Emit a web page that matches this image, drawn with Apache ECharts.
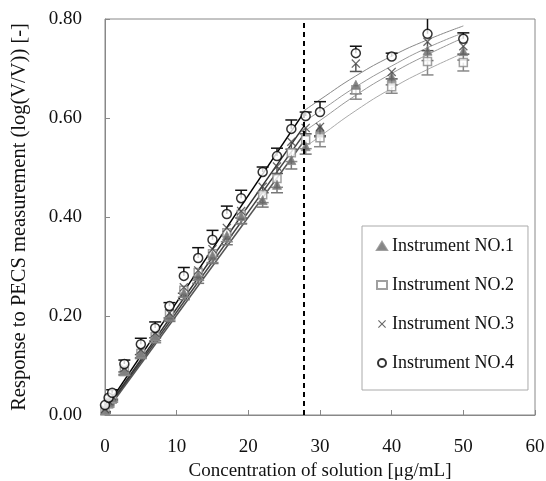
<!DOCTYPE html>
<html>
<head>
<meta charset="utf-8">
<script src="https://cdn.jsdelivr.net/npm/echarts@6/dist/echarts.min.js"></script>
<style>
  html, body { margin: 0; padding: 0; background: #fff; }
  #chart { width: 546px; height: 481px; }
</style>
</head>
<body>
<div id="chart"></div>
<script>
// concentration [ug/mL]
const conc = [0, 0.5, 1, 2.7, 5, 7, 9, 11, 13, 15, 17, 19, 22, 24, 26, 28, 30, 35, 40, 45, 50]

// measured response, per instrument
const no1 = [0.010, 0.025, 0.035, 0.090, 0.126, 0.160, 0.201, 0.247, 0.282, 0.322, 0.362, 0.402, 0.434, 0.465, 0.515, 0.543, 0.580, 0.667, 0.683, 0.736, 0.735]
const no2 = [0.008, 0.022, 0.032, 0.088, 0.124, 0.158, 0.204, 0.252, 0.288, 0.326, 0.368, 0.405, 0.445, 0.478, 0.530, 0.556, 0.560, 0.657, 0.663, 0.714, 0.712]
const no3 = [0.012, 0.028, 0.038, 0.095, 0.132, 0.166, 0.206, 0.258, 0.292, 0.335, 0.378, 0.412, 0.461, 0.502, 0.552, 0.580, 0.582, 0.710, 0.693, 0.754, 0.745]
const no4 = [0.020, 0.035, 0.045, 0.103, 0.143, 0.176, 0.220, 0.281, 0.317, 0.354, 0.406, 0.438, 0.491, 0.523, 0.578, 0.604, 0.612, 0.731, 0.724, 0.770, 0.760]

// error bar lengths (no4 drawn upward, others downward)
const err1 = [0.005, 0.006, 0.006, 0.008, 0.010, 0.010, 0.012, 0.014, 0.016, 0.016, 0.018, 0.016, 0.014, 0.016, 0.018, 0.016, 0.018, 0.018, 0.016, 0.020, 0.018]
const err2 = [0.005, 0.006, 0.006, 0.008, 0.010, 0.012, 0.012, 0.014, 0.016, 0.018, 0.018, 0.018, 0.016, 0.018, 0.018, 0.018, 0.018, 0.019, 0.013, 0.027, 0.017]
const err3 = [0.005, 0.006, 0.006, 0.008, 0.010, 0.010, 0.010, 0.012, 0.014, 0.014, 0.014, 0.014, 0.012, 0.014, 0.015, 0.012, 0.018, 0.016, 0.014, 0.018, 0.016]
const err4 = [0.005, 0.005, 0.006, 0.008, 0.012, 0.012, 0.007, 0.017, 0.021, 0.019, 0.016, 0.016, 0.010, 0.016, 0.018, 0.008, 0.021, 0.014, 0.007, 0.040, 0.012]

// linear fits below the limit
const linX = [0, 27.7]
const lin1 = [0.006, 0.566]
const lin2 = [0.004, 0.552]
const lin3 = [0.008, 0.582]
const lin4 = [0.012, 0.610]

// curves above the limit
const curveX = [27.7, 30, 35, 40, 45, 50]
const curve1 = [0.572, 0.595, 0.646, 0.690, 0.728, 0.762]
const curve2 = [0.539, 0.563, 0.615, 0.660, 0.698, 0.731]
const curve3 = [0.592, 0.614, 0.663, 0.705, 0.742, 0.772]
const curve4 = [0.614, 0.637, 0.685, 0.725, 0.758, 0.786]

const limitX = 27.7
const names = ['Instrument NO.1', 'Instrument NO.2', 'Instrument NO.3', 'Instrument NO.4']
const serif = 'Liberation Serif'
const crossPath = 'path://M0,1L1,0L5,4L9,0L10,1L6,5L10,9L9,10L5,6L1,10L0,9L4,5Z'

const pairs = (xs, ys) => xs.map((x, i) => [x, ys[i]])

function lineSeries(xs, ys, color, width, smooth) {
    return {
        type: 'line',
        data: pairs(xs, ys),
        symbol: 'none',
        smooth: smooth,
        silent: true,
        lineStyle: { color: color, width: width },
        z: 2
    }
}

function errSeries(ys, errs, dir, color) {
    return {
        type: 'custom',
        clip: true,
        silent: true,
        z: 3,
        data: conc.map((x, i) => [x, ys[i], ys[i] + dir * errs[i]]),
        encode: { x: 0, y: [1, 2] },
        renderItem: (params, api) => {
            const p0 = api.coord([api.value(0), api.value(1)])
            const p1 = api.coord([api.value(0), api.value(2)])
            return {
                type: 'group',
                children: [
                    { type: 'line', shape: { x1: p0[0], y1: p0[1], x2: p1[0], y2: p1[1] }, style: { stroke: color, lineWidth: 1.5 } },
                    { type: 'line', shape: { x1: p1[0] - 6, y1: p1[1], x2: p1[0] + 6, y2: p1[1] }, style: { stroke: color, lineWidth: 1.5 } }
                ]
            }
        }
    }
}

const chart = echarts.init(document.getElementById('chart'))
const option = {
    animation: false,
    backgroundColor: '#fff',
    grid: {
        left: 105, right: 11, top: 19, bottom: 66,
        outerBoundsMode: 'none',
        containLabel: false,
        show: true, borderColor: '#888', borderWidth: 1
    },
    legend: {
        data: names,
        orient: 'vertical',
        left: 362,
        top: 226,
        padding: [11, 14, 18, 14],
        itemGap: 21,
        itemWidth: 10,
        itemHeight: 8,
        backgroundColor: '#fff',
        borderColor: '#aaa',
        borderWidth: 1,
        textStyle: { fontFamily: serif, fontSize: 18, color: '#111' }
    },
    xAxis: {
        type: 'value',
        min: 0, max: 60, interval: 10,
        name: 'Concentration of solution [\u03bcg/mL]',
        nameLocation: 'middle',
        nameGap: 45,
        nameTextStyle: { fontFamily: serif, fontSize: 19, color: '#111' },
        axisLine: { lineStyle: { color: '#888' } },
        axisTick: { inside: true, length: 5, lineStyle: { color: '#888' } },
        axisLabel: { fontFamily: serif, fontSize: 19, color: '#111', margin: 23 },
        splitLine: { show: false }
    },
    yAxis: {
        type: 'value',
        min: 0, max: 0.8, interval: 0.2,
        name: 'Response to PECS measurement (log(V/V)) [-]',
        nameLocation: 'middle',
        nameGap: 75,
        nameTextStyle: { fontFamily: serif, fontSize: 20.5, color: '#111' },
        axisLine: { show: true, lineStyle: { color: '#888' } },
        axisTick: { show: true, inside: true, length: 5, lineStyle: { color: '#888' } },
        axisLabel: { fontFamily: serif, fontSize: 19, color: '#111', margin: 23, formatter: v => v.toFixed(2) },
        splitLine: { show: false }
    },
    series: [
        lineSeries(curveX, curve1, '#999', 1, true),
        lineSeries(curveX, curve2, '#aaa', 1, true),
        lineSeries(curveX, curve3, '#999', 1, true),
        lineSeries(curveX, curve4, '#888', 1, true),
        lineSeries(linX, lin1, '#444', 1.5, false),
        lineSeries(linX, lin2, '#555', 1.5, false),
        lineSeries(linX, lin3, '#333', 1.5, false),
        lineSeries(linX, lin4, '#000', 1.5, false),
        errSeries(no2, err2, -1, '#888'),
        errSeries(no1, err1, -1, '#777'),
        errSeries(no3, err3, -1, '#555'),
        errSeries(no4, err4, 1, '#111'),
        {
            name: names[1], type: 'scatter', data: pairs(conc, no2), z: 4,
            symbol: 'rect', symbolSize: 8,
            itemStyle: { color: '#fff', borderColor: '#888', borderWidth: 1.5 }
        },
        {
            name: names[0], type: 'scatter', data: pairs(conc, no1), z: 4,
            symbol: 'triangle', symbolSize: 9,
            itemStyle: { color: '#666', borderColor: '#888', borderWidth: 1 }
        },
        {
            name: names[2], type: 'scatter', data: pairs(conc, no3), z: 4,
            symbol: crossPath, symbolSize: 9,
            itemStyle: { color: '#444' }
        },
        {
            name: names[3], type: 'scatter', data: pairs(conc, no4), z: 5,
            symbol: 'circle', symbolSize: 9,
            itemStyle: { color: '#fff', borderColor: '#000', borderWidth: 1.5 },
            markLine: {
                silent: true,
                symbol: 'none',
                label: { show: false },
                lineStyle: { color: '#000', type: [5, 4], width: 2 },
                data: [{ xAxis: limitX }]
            }
        }
    ]
}
chart.setOption(option)
window.addEventListener('resize', () => { chart.resize() })
</script>
</body>
</html>
